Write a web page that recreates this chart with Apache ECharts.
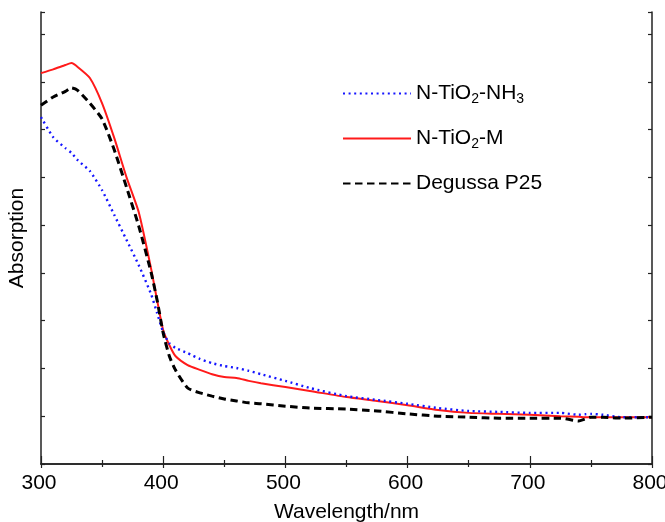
<!DOCTYPE html>
<html>
<head>
<meta charset="utf-8">
<script src="https://cdn.jsdelivr.net/npm/echarts@6/dist/echarts.min.js"></script>
<style>
  html, body { margin: 0; padding: 0; background: #fff; }
  #main { width: 665px; height: 522px; }
</style>
</head>
<body>
<div id="main"></div>
<script>
// wavelength grid (nm)
const wavelengths = [300, 310, 320, 325, 330, 340, 350, 360, 370, 380, 390, 395, 400, 405, 410, 420, 430, 440, 450, 460, 470, 480, 500, 520, 550, 575, 600, 625, 650, 675, 700, 725, 740, 745, 750, 760, 775, 800]

// N-TiO2-NH3 (blue dotted)
const nh3Values = [0.726, 0.684, 0.661, 0.651, 0.636, 0.613, 0.573, 0.521, 0.469, 0.416, 0.356, 0.316, 0.276, 0.253, 0.243, 0.232, 0.220, 0.211, 0.205, 0.201, 0.195, 0.188, 0.174, 0.159, 0.142, 0.134, 0.126, 0.117, 0.111, 0.109, 0.107, 0.107, 0.103, 0.104, 0.105, 0.103, 0.098, 0.098]
// N-TiO2-M (red solid)
const mValues = [0.818, 0.826, 0.835, 0.839, 0.831, 0.808, 0.755, 0.682, 0.600, 0.527, 0.410, 0.343, 0.280, 0.249, 0.226, 0.207, 0.197, 0.188, 0.182, 0.180, 0.174, 0.169, 0.161, 0.153, 0.140, 0.132, 0.123, 0.113, 0.107, 0.105, 0.103, 0.100, 0.099, 0.098, 0.098, 0.098, 0.098, 0.098]
// Degussa P25 (black dashed)
const p25Values = [0.751, 0.768, 0.780, 0.787, 0.782, 0.755, 0.722, 0.657, 0.579, 0.498, 0.402, 0.343, 0.274, 0.226, 0.197, 0.159, 0.149, 0.142, 0.136, 0.132, 0.128, 0.126, 0.121, 0.117, 0.115, 0.111, 0.105, 0.100, 0.098, 0.096, 0.096, 0.096, 0.090, 0.094, 0.098, 0.098, 0.096, 0.098]

const xTicks = [300, 400, 500, 600, 700, 800]

const chart = echarts.init(document.getElementById('main'))

const pairs = vals => wavelengths.map((w, i) => [w, vals[i]])
const fontFamily = '"Liberation Sans", Arial, sans-serif'
const axisLine = { show: true, lineStyle: { color: '#222', width: 1.5 } }

chart.setOption({
  animation: false,
  textStyle: { fontFamily: fontFamily },
  grid: { left: 41, right: 13, top: 12, bottom: 58, outerBoundsMode: 'none' },
  legend: {
    orient: 'vertical',
    left: 342,
    top: 83,
    padding: 0,
    itemWidth: 68,
    itemHeight: 4,
    itemGap: 21.5,
    itemStyle: { opacity: 0 },
    textStyle: {
      color: '#000',
      fontSize: 21,
      fontFamily: fontFamily,
      rich: {
        a: { fontSize: 21, lineHeight: 26, fontFamily: fontFamily, color: '#000' },
        s: { fontSize: 14, lineHeight: 14, verticalAlign: 'bottom', fontFamily: fontFamily, color: '#000' }
      }
    },
    formatter: name => {
      if (name === 'N-TiO2-NH3') return '{a|N-TiO}{s|2}{a|-NH}{s|3}'
      if (name === 'N-TiO2-M') return '{a|N-TiO}{s|2}{a|-M}'
      return '{a|' + name + '}'
    },
    data: ['N-TiO2-NH3', 'N-TiO2-M', 'Degussa P25']
  },
  xAxis: [
    {
      type: 'value',
      position: 'bottom',
      min: xTicks[0],
      max: xTicks[xTicks.length - 1],
      interval: 100,
      name: 'Wavelength/nm',
      nameLocation: 'middle',
      nameGap: 38,
      nameTextStyle: { fontSize: 21, color: '#000', fontFamily: fontFamily },
      axisLine: axisLine,
      axisTick: { inside: true, length: 8, lineStyle: { color: '#222', width: 1.2 } },
      minorTick: { show: true, splitNumber: 2, length: 4, lineStyle: { color: '#222', width: 1.2 } },
      axisLabel: { fontSize: 21, color: '#000', margin: 9, padding: [0, 4, 0, 0], fontFamily: fontFamily },
      splitLine: { show: false }
    },
    {
      type: 'value',
      position: 'top',
      min: xTicks[0],
      max: xTicks[xTicks.length - 1],
      interval: 100,
      axisLine: axisLine,
      axisTick: { inside: true, length: 4, lineStyle: { color: '#222', width: 1.2 } },
      minorTick: { show: true, splitNumber: 2, length: 3, lineStyle: { color: '#222', width: 1.2 } },
      axisLabel: { show: false },
      splitLine: { show: false }
    }
  ],
  yAxis: [
    {
      type: 'value',
      position: 'left',
      min: 0,
      max: 0.946,
      interval: 0.1,
      name: 'Absorption',
      nameLocation: 'middle',
      nameGap: 13,
      nameTextStyle: { fontSize: 21, color: '#000', fontFamily: fontFamily },
      axisLine: axisLine,
      axisTick: { inside: true, length: 4, lineStyle: { color: '#222', width: 1.2 } },
      axisLabel: { show: false },
      splitLine: { show: false }
    },
    {
      type: 'value',
      position: 'right',
      min: 0,
      max: 0.946,
      interval: 0.1,
      axisLine: axisLine,
      axisTick: { inside: true, length: 4, lineStyle: { color: '#222', width: 1.2 } },
      axisLabel: { show: false },
      splitLine: { show: false }
    }
  ],
  series: [
    {
      name: 'N-TiO2-NH3',
      type: 'line',
      symbol: 'none',
      smooth: 0.2,
      data: pairs(nh3Values),
      itemStyle: { color: '#1515ff' },
      lineStyle: { color: '#1515ff', width: 2.4, type: [2, 3.6] },
      z: 3
    },
    {
      name: 'N-TiO2-M',
      type: 'line',
      symbol: 'none',
      smooth: 0.2,
      data: pairs(mValues),
      itemStyle: { color: '#ff1a1a' },
      lineStyle: { color: '#ff1a1a', width: 2 },
      z: 2
    },
    {
      name: 'Degussa P25',
      type: 'line',
      symbol: 'none',
      smooth: 0.2,
      data: pairs(p25Values),
      itemStyle: { color: '#000' },
      lineStyle: { color: '#000', width: 3, type: [7.5, 4.5] },
      z: 4
    }
  ]
})
</script>
</body>
</html>
